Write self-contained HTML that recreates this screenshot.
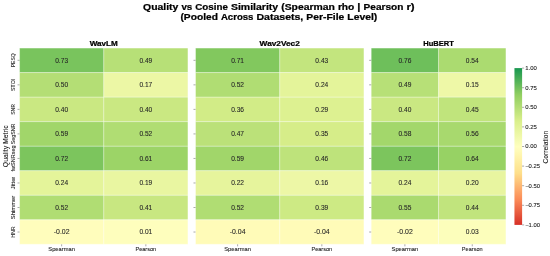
<!DOCTYPE html>
<html><head><meta charset="utf-8"><title>Quality vs Cosine Similarity</title>
<style>
html,body{margin:0;padding:0;background:#fff;}
body{width:550px;height:256px;overflow:hidden;}
svg{display:block;font-family:"Liberation Sans",sans-serif;will-change:transform;}
text{white-space:pre;}
</style></head><body>
<svg width="550" height="256" viewBox="0 0 550 256">
<rect width="550" height="256" fill="#fff"/>
<defs><linearGradient id="cb" x1="0" y1="0" x2="0" y2="1"><stop offset="0.0000" stop-color="#1a9850"/><stop offset="0.0156" stop-color="#229c51"/><stop offset="0.0312" stop-color="#2ea153"/><stop offset="0.0469" stop-color="#39a654"/><stop offset="0.0625" stop-color="#44ab56"/><stop offset="0.0781" stop-color="#4fb157"/><stop offset="0.0938" stop-color="#5ab659"/><stop offset="0.1094" stop-color="#66bb5a"/><stop offset="0.1250" stop-color="#71c05c"/><stop offset="0.1406" stop-color="#7cc55d"/><stop offset="0.1562" stop-color="#87ca5f"/><stop offset="0.1719" stop-color="#92cf61"/><stop offset="0.1875" stop-color="#99d265"/><stop offset="0.2031" stop-color="#9fd569"/><stop offset="0.2188" stop-color="#a6d86d"/><stop offset="0.2344" stop-color="#addb71"/><stop offset="0.2500" stop-color="#b4de75"/><stop offset="0.2656" stop-color="#bbe179"/><stop offset="0.2812" stop-color="#c1e47d"/><stop offset="0.2969" stop-color="#c8e781"/><stop offset="0.3125" stop-color="#cfea85"/><stop offset="0.3281" stop-color="#d6ed89"/><stop offset="0.3438" stop-color="#dbf08d"/><stop offset="0.3594" stop-color="#def192"/><stop offset="0.3750" stop-color="#e2f397"/><stop offset="0.3906" stop-color="#e6f49c"/><stop offset="0.4062" stop-color="#e9f6a1"/><stop offset="0.4219" stop-color="#edf7a6"/><stop offset="0.4375" stop-color="#f0f9ab"/><stop offset="0.4531" stop-color="#f4fab0"/><stop offset="0.4688" stop-color="#f7fcb5"/><stop offset="0.4844" stop-color="#fbfdb9"/><stop offset="0.5000" stop-color="#ffffbe"/><stop offset="0.5156" stop-color="#fffcbb"/><stop offset="0.5312" stop-color="#fffab6"/><stop offset="0.5469" stop-color="#fff7b1"/><stop offset="0.5625" stop-color="#fff4ac"/><stop offset="0.5781" stop-color="#fff1a7"/><stop offset="0.5938" stop-color="#feeea2"/><stop offset="0.6094" stop-color="#feeb9d"/><stop offset="0.6250" stop-color="#fee898"/><stop offset="0.6406" stop-color="#fee594"/><stop offset="0.6562" stop-color="#fee28f"/><stop offset="0.6719" stop-color="#fede8a"/><stop offset="0.6875" stop-color="#fed685"/><stop offset="0.7031" stop-color="#fece80"/><stop offset="0.7188" stop-color="#fdc77c"/><stop offset="0.7344" stop-color="#fdbf77"/><stop offset="0.7500" stop-color="#fdb772"/><stop offset="0.7656" stop-color="#fdaf6e"/><stop offset="0.7812" stop-color="#fda769"/><stop offset="0.7969" stop-color="#fca064"/><stop offset="0.8125" stop-color="#fc985f"/><stop offset="0.8281" stop-color="#fc905b"/><stop offset="0.8438" stop-color="#fa8856"/><stop offset="0.8594" stop-color="#f67f51"/><stop offset="0.8750" stop-color="#f3764d"/><stop offset="0.8906" stop-color="#ef6d48"/><stop offset="0.9062" stop-color="#ec6543"/><stop offset="0.9219" stop-color="#e85c3f"/><stop offset="0.9375" stop-color="#e5533a"/><stop offset="0.9531" stop-color="#e14a35"/><stop offset="0.9688" stop-color="#de4230"/><stop offset="0.9844" stop-color="#da392c"/><stop offset="1.0000" stop-color="#d73027"/></linearGradient></defs>
<g font-size="8.70" font-weight="700" stroke="#000" stroke-width="0.22" fill="#000"><text x="143.12" y="9.70" textLength="35.25" lengthAdjust="spacingAndGlyphs">Quality</text><text x="181.40" y="9.70" textLength="10.85" lengthAdjust="spacingAndGlyphs">vs</text><text x="195.28" y="9.70" textLength="32.62" lengthAdjust="spacingAndGlyphs">Cosine</text><text x="230.93" y="9.70" textLength="47.25" lengthAdjust="spacingAndGlyphs">Similarity</text><text x="281.21" y="9.70" textLength="53.66" lengthAdjust="spacingAndGlyphs">(Spearman</text><text x="337.90" y="9.70" textLength="16.46" lengthAdjust="spacingAndGlyphs">rho</text><text x="357.39" y="9.70" textLength="3.18" lengthAdjust="spacingAndGlyphs">|</text><text x="363.60" y="9.70" textLength="39.79" lengthAdjust="spacingAndGlyphs">Pearson</text><text x="406.41" y="9.70" textLength="8.27" lengthAdjust="spacingAndGlyphs">r)</text></g>
<g font-size="8.70" font-weight="700" stroke="#000" stroke-width="0.22" fill="#000"><text x="180.47" y="20.10" textLength="37.42" lengthAdjust="spacingAndGlyphs">(Pooled</text><text x="220.92" y="20.10" textLength="32.51" lengthAdjust="spacingAndGlyphs">Across</text><text x="256.46" y="20.10" textLength="46.84" lengthAdjust="spacingAndGlyphs">Datasets,</text><text x="306.34" y="20.10" textLength="37.99" lengthAdjust="spacingAndGlyphs">Per-File</text><text x="347.35" y="20.10" textLength="29.97" lengthAdjust="spacingAndGlyphs">Level)</text></g>
<text x="103.75" y="45.95" font-size="7.20" text-anchor="middle" font-weight="700" stroke="#000" stroke-width="0.22" textLength="28.02" lengthAdjust="spacingAndGlyphs" fill="#000">WavLM</text>
<rect x="19.55" y="48.05" width="84.20" height="24.53" fill="#79c45d"/>
<rect x="103.75" y="48.05" width="84.20" height="24.53" fill="#b7e077"/>
<rect x="19.55" y="72.58" width="84.20" height="24.53" fill="#b4de75"/>
<rect x="103.75" y="72.58" width="84.20" height="24.53" fill="#ecf7a5"/>
<rect x="19.55" y="97.11" width="84.20" height="24.53" fill="#cae882"/>
<rect x="103.75" y="97.11" width="84.20" height="24.53" fill="#cae882"/>
<rect x="19.55" y="121.64" width="84.20" height="24.53" fill="#a1d66a"/>
<rect x="103.75" y="121.64" width="84.20" height="24.53" fill="#b0dd73"/>
<rect x="19.55" y="146.18" width="84.20" height="24.53" fill="#7cc55d"/>
<rect x="103.75" y="146.18" width="84.20" height="24.53" fill="#9cd467"/>
<rect x="19.55" y="170.71" width="84.20" height="24.53" fill="#e4f49a"/>
<rect x="103.75" y="170.71" width="84.20" height="24.53" fill="#e9f6a1"/>
<rect x="19.55" y="195.24" width="84.20" height="24.53" fill="#b0dd73"/>
<rect x="103.75" y="195.24" width="84.20" height="24.53" fill="#c8e781"/>
<rect x="19.55" y="219.77" width="84.20" height="24.53" fill="#fffdbc"/>
<rect x="103.75" y="219.77" width="84.20" height="24.53" fill="#fefebd"/>
<line x1="19.55" x2="187.95" y1="48.05" y2="48.05" stroke="#fff" stroke-width="0.4"/>
<line x1="19.55" x2="187.95" y1="72.58" y2="72.58" stroke="#fff" stroke-width="0.4"/>
<line x1="19.55" x2="187.95" y1="97.11" y2="97.11" stroke="#fff" stroke-width="0.4"/>
<line x1="19.55" x2="187.95" y1="121.64" y2="121.64" stroke="#fff" stroke-width="0.4"/>
<line x1="19.55" x2="187.95" y1="146.18" y2="146.18" stroke="#fff" stroke-width="0.4"/>
<line x1="19.55" x2="187.95" y1="170.71" y2="170.71" stroke="#fff" stroke-width="0.4"/>
<line x1="19.55" x2="187.95" y1="195.24" y2="195.24" stroke="#fff" stroke-width="0.4"/>
<line x1="19.55" x2="187.95" y1="219.77" y2="219.77" stroke="#fff" stroke-width="0.4"/>
<line x1="19.55" x2="187.95" y1="244.30" y2="244.30" stroke="#fff" stroke-width="0.4"/>
<line x1="19.55" x2="19.55" y1="48.05" y2="244.30" stroke="#fff" stroke-width="0.4"/>
<line x1="103.75" x2="103.75" y1="48.05" y2="244.30" stroke="#fff" stroke-width="0.4"/>
<line x1="187.95" x2="187.95" y1="48.05" y2="244.30" stroke="#fff" stroke-width="0.4"/>
<text x="61.65" y="62.62" font-size="6.40" text-anchor="middle" stroke="#262626" stroke-width="0.08" textLength="12.91" lengthAdjust="spacingAndGlyphs" fill="#262626">0.73</text>
<text x="145.85" y="62.62" font-size="6.40" text-anchor="middle" stroke="#262626" stroke-width="0.08" textLength="12.91" lengthAdjust="spacingAndGlyphs" fill="#262626">0.49</text>
<text x="61.65" y="87.15" font-size="6.40" text-anchor="middle" stroke="#262626" stroke-width="0.08" textLength="12.91" lengthAdjust="spacingAndGlyphs" fill="#262626">0.50</text>
<text x="145.85" y="87.15" font-size="6.40" text-anchor="middle" stroke="#262626" stroke-width="0.08" textLength="12.91" lengthAdjust="spacingAndGlyphs" fill="#262626">0.17</text>
<text x="61.65" y="111.68" font-size="6.40" text-anchor="middle" stroke="#262626" stroke-width="0.08" textLength="12.91" lengthAdjust="spacingAndGlyphs" fill="#262626">0.40</text>
<text x="145.85" y="111.68" font-size="6.40" text-anchor="middle" stroke="#262626" stroke-width="0.08" textLength="12.91" lengthAdjust="spacingAndGlyphs" fill="#262626">0.40</text>
<text x="61.65" y="136.21" font-size="6.40" text-anchor="middle" stroke="#262626" stroke-width="0.08" textLength="12.91" lengthAdjust="spacingAndGlyphs" fill="#262626">0.59</text>
<text x="145.85" y="136.21" font-size="6.40" text-anchor="middle" stroke="#262626" stroke-width="0.08" textLength="12.91" lengthAdjust="spacingAndGlyphs" fill="#262626">0.52</text>
<text x="61.65" y="160.74" font-size="6.40" text-anchor="middle" stroke="#262626" stroke-width="0.08" textLength="12.91" lengthAdjust="spacingAndGlyphs" fill="#262626">0.72</text>
<text x="145.85" y="160.74" font-size="6.40" text-anchor="middle" stroke="#262626" stroke-width="0.08" textLength="12.91" lengthAdjust="spacingAndGlyphs" fill="#262626">0.61</text>
<text x="61.65" y="185.27" font-size="6.40" text-anchor="middle" stroke="#262626" stroke-width="0.08" textLength="12.91" lengthAdjust="spacingAndGlyphs" fill="#262626">0.24</text>
<text x="145.85" y="185.27" font-size="6.40" text-anchor="middle" stroke="#262626" stroke-width="0.08" textLength="12.91" lengthAdjust="spacingAndGlyphs" fill="#262626">0.19</text>
<text x="61.65" y="209.80" font-size="6.40" text-anchor="middle" stroke="#262626" stroke-width="0.08" textLength="12.91" lengthAdjust="spacingAndGlyphs" fill="#262626">0.52</text>
<text x="145.85" y="209.80" font-size="6.40" text-anchor="middle" stroke="#262626" stroke-width="0.08" textLength="12.91" lengthAdjust="spacingAndGlyphs" fill="#262626">0.41</text>
<text x="61.65" y="234.33" font-size="6.40" text-anchor="middle" stroke="#262626" stroke-width="0.08" textLength="15.80" lengthAdjust="spacingAndGlyphs" fill="#262626">-0.02</text>
<text x="145.85" y="234.33" font-size="6.40" text-anchor="middle" stroke="#262626" stroke-width="0.08" textLength="12.91" lengthAdjust="spacingAndGlyphs" fill="#262626">0.01</text>
<line x1="61.65" x2="61.65" y1="244.30" y2="246.33" stroke="#333" stroke-width="0.42"/>
<text x="61.65" y="251.45" font-size="5.50" text-anchor="middle" stroke="#1a1a1a" stroke-width="0.08" textLength="26.68" lengthAdjust="spacingAndGlyphs" fill="#1a1a1a">Spearman</text>
<line x1="145.85" x2="145.85" y1="244.30" y2="246.33" stroke="#333" stroke-width="0.42"/>
<text x="145.85" y="251.45" font-size="5.50" text-anchor="middle" stroke="#1a1a1a" stroke-width="0.08" textLength="20.74" lengthAdjust="spacingAndGlyphs" fill="#1a1a1a">Pearson</text>
<line x1="17.52" x2="19.55" y1="60.32" y2="60.32" stroke="#333" stroke-width="0.42"/>
<text x="15.10" y="60.32" font-size="5.50" text-anchor="middle" stroke="#1a1a1a" stroke-width="0.08" textLength="13.87" lengthAdjust="spacingAndGlyphs" fill="#1a1a1a" transform="rotate(-90 15.10 60.32)">PESQ</text>
<line x1="17.52" x2="19.55" y1="84.85" y2="84.85" stroke="#333" stroke-width="0.42"/>
<text x="15.10" y="84.85" font-size="5.50" text-anchor="middle" stroke="#1a1a1a" stroke-width="0.08" textLength="12.15" lengthAdjust="spacingAndGlyphs" fill="#1a1a1a" transform="rotate(-90 15.10 84.85)">STOI</text>
<line x1="17.52" x2="19.55" y1="109.38" y2="109.38" stroke="#333" stroke-width="0.42"/>
<text x="15.10" y="109.38" font-size="5.50" text-anchor="middle" stroke="#1a1a1a" stroke-width="0.08" textLength="10.85" lengthAdjust="spacingAndGlyphs" fill="#1a1a1a" transform="rotate(-90 15.10 109.38)">SNR</text>
<line x1="17.52" x2="19.55" y1="133.91" y2="133.91" stroke="#333" stroke-width="0.42"/>
<text x="15.10" y="133.91" font-size="5.50" text-anchor="middle" stroke="#1a1a1a" stroke-width="0.08" textLength="20.68" lengthAdjust="spacingAndGlyphs" fill="#1a1a1a" transform="rotate(-90 15.10 133.91)">SegSNR</text>
<line x1="17.52" x2="19.55" y1="158.44" y2="158.44" stroke="#333" stroke-width="0.42"/>
<text x="15.10" y="158.44" font-size="5.50" text-anchor="middle" stroke="#1a1a1a" stroke-width="0.08" textLength="26.11" lengthAdjust="spacingAndGlyphs" fill="#1a1a1a" transform="rotate(-90 15.10 158.44)">fwSNRseg</text>
<line x1="17.52" x2="19.55" y1="182.97" y2="182.97" stroke="#333" stroke-width="0.42"/>
<text x="15.10" y="182.97" font-size="5.50" text-anchor="middle" stroke="#1a1a1a" stroke-width="0.08" textLength="12.44" lengthAdjust="spacingAndGlyphs" fill="#1a1a1a" transform="rotate(-90 15.10 182.97)">Jitter</text>
<line x1="17.52" x2="19.55" y1="207.50" y2="207.50" stroke="#333" stroke-width="0.42"/>
<text x="15.10" y="207.50" font-size="5.50" text-anchor="middle" stroke="#1a1a1a" stroke-width="0.08" textLength="23.60" lengthAdjust="spacingAndGlyphs" fill="#1a1a1a" transform="rotate(-90 15.10 207.50)">Shimmer</text>
<line x1="17.52" x2="19.55" y1="232.03" y2="232.03" stroke="#333" stroke-width="0.42"/>
<text x="15.10" y="232.03" font-size="5.50" text-anchor="middle" stroke="#1a1a1a" stroke-width="0.08" textLength="11.46" lengthAdjust="spacingAndGlyphs" fill="#1a1a1a" transform="rotate(-90 15.10 232.03)">HNR</text>
<text x="279.73" y="45.95" font-size="7.20" text-anchor="middle" font-weight="700" stroke="#000" stroke-width="0.22" textLength="40.20" lengthAdjust="spacingAndGlyphs" fill="#000">Wav2Vec2</text>
<rect x="195.50" y="48.05" width="84.22" height="24.53" fill="#82c85e"/>
<rect x="279.73" y="48.05" width="84.22" height="24.53" fill="#c3e57e"/>
<rect x="195.50" y="72.58" width="84.22" height="24.53" fill="#b0dd73"/>
<rect x="279.73" y="72.58" width="84.22" height="24.53" fill="#e4f49a"/>
<rect x="195.50" y="97.11" width="84.22" height="24.53" fill="#d2ec87"/>
<rect x="279.73" y="97.11" width="84.22" height="24.53" fill="#ddf191"/>
<rect x="195.50" y="121.64" width="84.22" height="24.53" fill="#bbe179"/>
<rect x="279.73" y="121.64" width="84.22" height="24.53" fill="#d6ed89"/>
<rect x="195.50" y="146.18" width="84.22" height="24.53" fill="#a1d66a"/>
<rect x="279.73" y="146.18" width="84.22" height="24.53" fill="#bee37b"/>
<rect x="195.50" y="170.71" width="84.22" height="24.53" fill="#e6f49c"/>
<rect x="279.73" y="170.71" width="84.22" height="24.53" fill="#edf7a6"/>
<rect x="195.50" y="195.24" width="84.22" height="24.53" fill="#b0dd73"/>
<rect x="279.73" y="195.24" width="84.22" height="24.53" fill="#cdea84"/>
<rect x="195.50" y="219.77" width="84.22" height="24.53" fill="#fffbb8"/>
<rect x="279.73" y="219.77" width="84.22" height="24.53" fill="#fffbb8"/>
<line x1="195.50" x2="363.95" y1="48.05" y2="48.05" stroke="#fff" stroke-width="0.4"/>
<line x1="195.50" x2="363.95" y1="72.58" y2="72.58" stroke="#fff" stroke-width="0.4"/>
<line x1="195.50" x2="363.95" y1="97.11" y2="97.11" stroke="#fff" stroke-width="0.4"/>
<line x1="195.50" x2="363.95" y1="121.64" y2="121.64" stroke="#fff" stroke-width="0.4"/>
<line x1="195.50" x2="363.95" y1="146.18" y2="146.18" stroke="#fff" stroke-width="0.4"/>
<line x1="195.50" x2="363.95" y1="170.71" y2="170.71" stroke="#fff" stroke-width="0.4"/>
<line x1="195.50" x2="363.95" y1="195.24" y2="195.24" stroke="#fff" stroke-width="0.4"/>
<line x1="195.50" x2="363.95" y1="219.77" y2="219.77" stroke="#fff" stroke-width="0.4"/>
<line x1="195.50" x2="363.95" y1="244.30" y2="244.30" stroke="#fff" stroke-width="0.4"/>
<line x1="195.50" x2="195.50" y1="48.05" y2="244.30" stroke="#fff" stroke-width="0.4"/>
<line x1="279.73" x2="279.73" y1="48.05" y2="244.30" stroke="#fff" stroke-width="0.4"/>
<line x1="363.95" x2="363.95" y1="48.05" y2="244.30" stroke="#fff" stroke-width="0.4"/>
<text x="237.61" y="62.62" font-size="6.40" text-anchor="middle" stroke="#262626" stroke-width="0.08" textLength="12.91" lengthAdjust="spacingAndGlyphs" fill="#262626">0.71</text>
<text x="321.84" y="62.62" font-size="6.40" text-anchor="middle" stroke="#262626" stroke-width="0.08" textLength="12.91" lengthAdjust="spacingAndGlyphs" fill="#262626">0.43</text>
<text x="237.61" y="87.15" font-size="6.40" text-anchor="middle" stroke="#262626" stroke-width="0.08" textLength="12.91" lengthAdjust="spacingAndGlyphs" fill="#262626">0.52</text>
<text x="321.84" y="87.15" font-size="6.40" text-anchor="middle" stroke="#262626" stroke-width="0.08" textLength="12.91" lengthAdjust="spacingAndGlyphs" fill="#262626">0.24</text>
<text x="237.61" y="111.68" font-size="6.40" text-anchor="middle" stroke="#262626" stroke-width="0.08" textLength="12.91" lengthAdjust="spacingAndGlyphs" fill="#262626">0.36</text>
<text x="321.84" y="111.68" font-size="6.40" text-anchor="middle" stroke="#262626" stroke-width="0.08" textLength="12.91" lengthAdjust="spacingAndGlyphs" fill="#262626">0.29</text>
<text x="237.61" y="136.21" font-size="6.40" text-anchor="middle" stroke="#262626" stroke-width="0.08" textLength="12.91" lengthAdjust="spacingAndGlyphs" fill="#262626">0.47</text>
<text x="321.84" y="136.21" font-size="6.40" text-anchor="middle" stroke="#262626" stroke-width="0.08" textLength="12.91" lengthAdjust="spacingAndGlyphs" fill="#262626">0.35</text>
<text x="237.61" y="160.74" font-size="6.40" text-anchor="middle" stroke="#262626" stroke-width="0.08" textLength="12.91" lengthAdjust="spacingAndGlyphs" fill="#262626">0.59</text>
<text x="321.84" y="160.74" font-size="6.40" text-anchor="middle" stroke="#262626" stroke-width="0.08" textLength="12.91" lengthAdjust="spacingAndGlyphs" fill="#262626">0.46</text>
<text x="237.61" y="185.27" font-size="6.40" text-anchor="middle" stroke="#262626" stroke-width="0.08" textLength="12.91" lengthAdjust="spacingAndGlyphs" fill="#262626">0.22</text>
<text x="321.84" y="185.27" font-size="6.40" text-anchor="middle" stroke="#262626" stroke-width="0.08" textLength="12.91" lengthAdjust="spacingAndGlyphs" fill="#262626">0.16</text>
<text x="237.61" y="209.80" font-size="6.40" text-anchor="middle" stroke="#262626" stroke-width="0.08" textLength="12.91" lengthAdjust="spacingAndGlyphs" fill="#262626">0.52</text>
<text x="321.84" y="209.80" font-size="6.40" text-anchor="middle" stroke="#262626" stroke-width="0.08" textLength="12.91" lengthAdjust="spacingAndGlyphs" fill="#262626">0.39</text>
<text x="237.61" y="234.33" font-size="6.40" text-anchor="middle" stroke="#262626" stroke-width="0.08" textLength="15.80" lengthAdjust="spacingAndGlyphs" fill="#262626">-0.04</text>
<text x="321.84" y="234.33" font-size="6.40" text-anchor="middle" stroke="#262626" stroke-width="0.08" textLength="15.80" lengthAdjust="spacingAndGlyphs" fill="#262626">-0.04</text>
<line x1="237.61" x2="237.61" y1="244.30" y2="246.33" stroke="#333" stroke-width="0.42"/>
<text x="237.61" y="251.45" font-size="5.50" text-anchor="middle" stroke="#1a1a1a" stroke-width="0.08" textLength="26.68" lengthAdjust="spacingAndGlyphs" fill="#1a1a1a">Spearman</text>
<line x1="321.84" x2="321.84" y1="244.30" y2="246.33" stroke="#333" stroke-width="0.42"/>
<text x="321.84" y="251.45" font-size="5.50" text-anchor="middle" stroke="#1a1a1a" stroke-width="0.08" textLength="20.74" lengthAdjust="spacingAndGlyphs" fill="#1a1a1a">Pearson</text>
<line x1="193.47" x2="195.50" y1="60.32" y2="60.32" stroke="#333" stroke-width="0.42"/>
<line x1="193.47" x2="195.50" y1="84.85" y2="84.85" stroke="#333" stroke-width="0.42"/>
<line x1="193.47" x2="195.50" y1="109.38" y2="109.38" stroke="#333" stroke-width="0.42"/>
<line x1="193.47" x2="195.50" y1="133.91" y2="133.91" stroke="#333" stroke-width="0.42"/>
<line x1="193.47" x2="195.50" y1="158.44" y2="158.44" stroke="#333" stroke-width="0.42"/>
<line x1="193.47" x2="195.50" y1="182.97" y2="182.97" stroke="#333" stroke-width="0.42"/>
<line x1="193.47" x2="195.50" y1="207.50" y2="207.50" stroke="#333" stroke-width="0.42"/>
<line x1="193.47" x2="195.50" y1="232.03" y2="232.03" stroke="#333" stroke-width="0.42"/>
<text x="438.57" y="45.95" font-size="7.20" text-anchor="middle" font-weight="700" stroke="#000" stroke-width="0.22" textLength="30.63" lengthAdjust="spacingAndGlyphs" fill="#000">HuBERT</text>
<rect x="371.20" y="48.05" width="67.38" height="24.53" fill="#6ebf5b"/>
<rect x="438.57" y="48.05" width="67.38" height="24.53" fill="#abdb70"/>
<rect x="371.20" y="72.58" width="67.38" height="24.53" fill="#b7e077"/>
<rect x="438.57" y="72.58" width="67.38" height="24.53" fill="#eef8a7"/>
<rect x="371.20" y="97.11" width="67.38" height="24.53" fill="#cae882"/>
<rect x="438.57" y="97.11" width="67.38" height="24.53" fill="#c0e47c"/>
<rect x="371.20" y="121.64" width="67.38" height="24.53" fill="#a3d76b"/>
<rect x="438.57" y="121.64" width="67.38" height="24.53" fill="#a8d96e"/>
<rect x="371.20" y="146.18" width="67.38" height="24.53" fill="#7cc55d"/>
<rect x="438.57" y="146.18" width="67.38" height="24.53" fill="#97d264"/>
<rect x="371.20" y="170.71" width="67.38" height="24.53" fill="#e4f49a"/>
<rect x="438.57" y="170.71" width="67.38" height="24.53" fill="#e8f5a0"/>
<rect x="371.20" y="195.24" width="67.38" height="24.53" fill="#aada6f"/>
<rect x="438.57" y="195.24" width="67.38" height="24.53" fill="#c1e47d"/>
<rect x="371.20" y="219.77" width="67.38" height="24.53" fill="#fffdbc"/>
<rect x="438.57" y="219.77" width="67.38" height="24.53" fill="#fcfebb"/>
<line x1="371.20" x2="505.95" y1="48.05" y2="48.05" stroke="#fff" stroke-width="0.4"/>
<line x1="371.20" x2="505.95" y1="72.58" y2="72.58" stroke="#fff" stroke-width="0.4"/>
<line x1="371.20" x2="505.95" y1="97.11" y2="97.11" stroke="#fff" stroke-width="0.4"/>
<line x1="371.20" x2="505.95" y1="121.64" y2="121.64" stroke="#fff" stroke-width="0.4"/>
<line x1="371.20" x2="505.95" y1="146.18" y2="146.18" stroke="#fff" stroke-width="0.4"/>
<line x1="371.20" x2="505.95" y1="170.71" y2="170.71" stroke="#fff" stroke-width="0.4"/>
<line x1="371.20" x2="505.95" y1="195.24" y2="195.24" stroke="#fff" stroke-width="0.4"/>
<line x1="371.20" x2="505.95" y1="219.77" y2="219.77" stroke="#fff" stroke-width="0.4"/>
<line x1="371.20" x2="505.95" y1="244.30" y2="244.30" stroke="#fff" stroke-width="0.4"/>
<line x1="371.20" x2="371.20" y1="48.05" y2="244.30" stroke="#fff" stroke-width="0.4"/>
<line x1="438.57" x2="438.57" y1="48.05" y2="244.30" stroke="#fff" stroke-width="0.4"/>
<line x1="505.95" x2="505.95" y1="48.05" y2="244.30" stroke="#fff" stroke-width="0.4"/>
<text x="404.89" y="62.62" font-size="6.40" text-anchor="middle" stroke="#262626" stroke-width="0.08" textLength="12.91" lengthAdjust="spacingAndGlyphs" fill="#262626">0.76</text>
<text x="472.26" y="62.62" font-size="6.40" text-anchor="middle" stroke="#262626" stroke-width="0.08" textLength="12.91" lengthAdjust="spacingAndGlyphs" fill="#262626">0.54</text>
<text x="404.89" y="87.15" font-size="6.40" text-anchor="middle" stroke="#262626" stroke-width="0.08" textLength="12.91" lengthAdjust="spacingAndGlyphs" fill="#262626">0.49</text>
<text x="472.26" y="87.15" font-size="6.40" text-anchor="middle" stroke="#262626" stroke-width="0.08" textLength="12.91" lengthAdjust="spacingAndGlyphs" fill="#262626">0.15</text>
<text x="404.89" y="111.68" font-size="6.40" text-anchor="middle" stroke="#262626" stroke-width="0.08" textLength="12.91" lengthAdjust="spacingAndGlyphs" fill="#262626">0.40</text>
<text x="472.26" y="111.68" font-size="6.40" text-anchor="middle" stroke="#262626" stroke-width="0.08" textLength="12.91" lengthAdjust="spacingAndGlyphs" fill="#262626">0.45</text>
<text x="404.89" y="136.21" font-size="6.40" text-anchor="middle" stroke="#262626" stroke-width="0.08" textLength="12.91" lengthAdjust="spacingAndGlyphs" fill="#262626">0.58</text>
<text x="472.26" y="136.21" font-size="6.40" text-anchor="middle" stroke="#262626" stroke-width="0.08" textLength="12.91" lengthAdjust="spacingAndGlyphs" fill="#262626">0.56</text>
<text x="404.89" y="160.74" font-size="6.40" text-anchor="middle" stroke="#262626" stroke-width="0.08" textLength="12.91" lengthAdjust="spacingAndGlyphs" fill="#262626">0.72</text>
<text x="472.26" y="160.74" font-size="6.40" text-anchor="middle" stroke="#262626" stroke-width="0.08" textLength="12.91" lengthAdjust="spacingAndGlyphs" fill="#262626">0.64</text>
<text x="404.89" y="185.27" font-size="6.40" text-anchor="middle" stroke="#262626" stroke-width="0.08" textLength="12.91" lengthAdjust="spacingAndGlyphs" fill="#262626">0.24</text>
<text x="472.26" y="185.27" font-size="6.40" text-anchor="middle" stroke="#262626" stroke-width="0.08" textLength="12.91" lengthAdjust="spacingAndGlyphs" fill="#262626">0.20</text>
<text x="404.89" y="209.80" font-size="6.40" text-anchor="middle" stroke="#262626" stroke-width="0.08" textLength="12.91" lengthAdjust="spacingAndGlyphs" fill="#262626">0.55</text>
<text x="472.26" y="209.80" font-size="6.40" text-anchor="middle" stroke="#262626" stroke-width="0.08" textLength="12.91" lengthAdjust="spacingAndGlyphs" fill="#262626">0.44</text>
<text x="404.89" y="234.33" font-size="6.40" text-anchor="middle" stroke="#262626" stroke-width="0.08" textLength="15.80" lengthAdjust="spacingAndGlyphs" fill="#262626">-0.02</text>
<text x="472.26" y="234.33" font-size="6.40" text-anchor="middle" stroke="#262626" stroke-width="0.08" textLength="12.91" lengthAdjust="spacingAndGlyphs" fill="#262626">0.03</text>
<line x1="404.89" x2="404.89" y1="244.30" y2="246.33" stroke="#333" stroke-width="0.42"/>
<text x="404.89" y="251.45" font-size="5.50" text-anchor="middle" stroke="#1a1a1a" stroke-width="0.08" textLength="26.68" lengthAdjust="spacingAndGlyphs" fill="#1a1a1a">Spearman</text>
<line x1="472.26" x2="472.26" y1="244.30" y2="246.33" stroke="#333" stroke-width="0.42"/>
<text x="472.26" y="251.45" font-size="5.50" text-anchor="middle" stroke="#1a1a1a" stroke-width="0.08" textLength="20.74" lengthAdjust="spacingAndGlyphs" fill="#1a1a1a">Pearson</text>
<line x1="369.17" x2="371.20" y1="60.32" y2="60.32" stroke="#333" stroke-width="0.42"/>
<line x1="369.17" x2="371.20" y1="84.85" y2="84.85" stroke="#333" stroke-width="0.42"/>
<line x1="369.17" x2="371.20" y1="109.38" y2="109.38" stroke="#333" stroke-width="0.42"/>
<line x1="369.17" x2="371.20" y1="133.91" y2="133.91" stroke="#333" stroke-width="0.42"/>
<line x1="369.17" x2="371.20" y1="158.44" y2="158.44" stroke="#333" stroke-width="0.42"/>
<line x1="369.17" x2="371.20" y1="182.97" y2="182.97" stroke="#333" stroke-width="0.42"/>
<line x1="369.17" x2="371.20" y1="207.50" y2="207.50" stroke="#333" stroke-width="0.42"/>
<line x1="369.17" x2="371.20" y1="232.03" y2="232.03" stroke="#333" stroke-width="0.42"/>
<g font-size="6.40" stroke="#1a1a1a" stroke-width="0.08" fill="#1a1a1a" transform="rotate(-90 8.40 146.30)"><text x="-12.51" y="146.30" textLength="21.35" lengthAdjust="spacingAndGlyphs">Quality</text><text x="10.74" y="146.30" textLength="18.57" lengthAdjust="spacingAndGlyphs">Metric</text></g>
<rect x="514.45" y="68.1" width="7.65" height="156.80" fill="url(#cb)"/>
<line x1="522.10" x2="524.13" y1="68.10" y2="68.10" stroke="#333" stroke-width="0.42"/>
<text x="525.20" y="70.01" font-size="5.22" text-anchor="start" stroke="#1a1a1a" stroke-width="0.08" textLength="11.60" lengthAdjust="spacingAndGlyphs" fill="#1a1a1a">1.00</text>
<line x1="522.10" x2="524.13" y1="87.70" y2="87.70" stroke="#333" stroke-width="0.42"/>
<text x="525.20" y="89.61" font-size="5.22" text-anchor="start" stroke="#1a1a1a" stroke-width="0.08" textLength="11.60" lengthAdjust="spacingAndGlyphs" fill="#1a1a1a">0.75</text>
<line x1="522.10" x2="524.13" y1="107.30" y2="107.30" stroke="#333" stroke-width="0.42"/>
<text x="525.20" y="109.21" font-size="5.22" text-anchor="start" stroke="#1a1a1a" stroke-width="0.08" textLength="11.60" lengthAdjust="spacingAndGlyphs" fill="#1a1a1a">0.50</text>
<line x1="522.10" x2="524.13" y1="126.90" y2="126.90" stroke="#333" stroke-width="0.42"/>
<text x="525.20" y="128.81" font-size="5.22" text-anchor="start" stroke="#1a1a1a" stroke-width="0.08" textLength="11.60" lengthAdjust="spacingAndGlyphs" fill="#1a1a1a">0.25</text>
<line x1="522.10" x2="524.13" y1="146.50" y2="146.50" stroke="#333" stroke-width="0.42"/>
<text x="525.20" y="148.41" font-size="5.22" text-anchor="start" stroke="#1a1a1a" stroke-width="0.08" textLength="11.60" lengthAdjust="spacingAndGlyphs" fill="#1a1a1a">0.00</text>
<line x1="522.10" x2="524.13" y1="166.10" y2="166.10" stroke="#333" stroke-width="0.42"/>
<text x="525.20" y="168.01" font-size="5.22" text-anchor="start" stroke="#1a1a1a" stroke-width="0.08" textLength="14.90" lengthAdjust="spacingAndGlyphs" fill="#1a1a1a">−0.25</text>
<line x1="522.10" x2="524.13" y1="185.70" y2="185.70" stroke="#333" stroke-width="0.42"/>
<text x="525.20" y="187.61" font-size="5.22" text-anchor="start" stroke="#1a1a1a" stroke-width="0.08" textLength="14.90" lengthAdjust="spacingAndGlyphs" fill="#1a1a1a">−0.50</text>
<line x1="522.10" x2="524.13" y1="205.30" y2="205.30" stroke="#333" stroke-width="0.42"/>
<text x="525.20" y="207.21" font-size="5.22" text-anchor="start" stroke="#1a1a1a" stroke-width="0.08" textLength="14.90" lengthAdjust="spacingAndGlyphs" fill="#1a1a1a">−0.75</text>
<line x1="522.10" x2="524.13" y1="224.90" y2="224.90" stroke="#333" stroke-width="0.42"/>
<text x="525.20" y="226.81" font-size="5.22" text-anchor="start" stroke="#1a1a1a" stroke-width="0.08" textLength="14.90" lengthAdjust="spacingAndGlyphs" fill="#1a1a1a">−1.00</text>
<text x="547.70" y="147.10" font-size="6.50" text-anchor="middle" stroke="#1a1a1a" stroke-width="0.08" textLength="32.94" lengthAdjust="spacingAndGlyphs" fill="#1a1a1a" transform="rotate(-90 547.70 147.10)">Correlation</text>
</svg>
</body></html>
